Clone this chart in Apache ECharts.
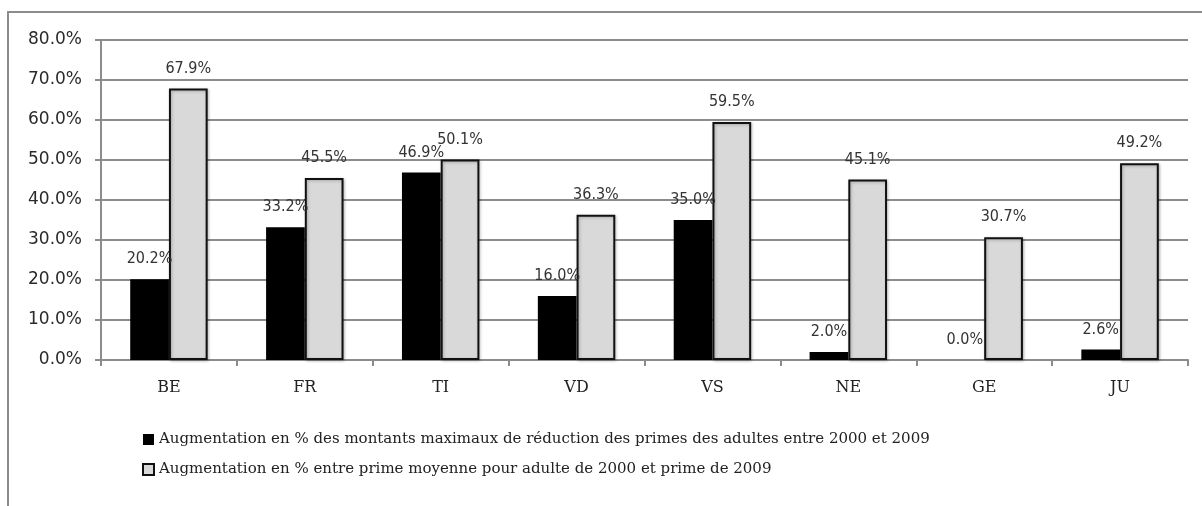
<!DOCTYPE html>
<html>
<head>
<meta charset="utf-8">
<script src="https://cdn.jsdelivr.net/npm/echarts@6/dist/echarts.min.js"></script>
<style>
    html, body { margin: 0; padding: 0; background: #fff; }
    #chart { width: 1202px; height: 506px; }
</style>
</head>
<body>
<div id="chart"></div>
<script>
    // donnees
    var cantons = ['BE', 'FR', 'TI', 'VD', 'VS', 'NE', 'GE', 'JU'];
    var reductionMax = [20.2, 33.2, 46.9, 16.0, 35.0, 2.0, 0.0, 2.6];
    var primeMoyenne = [67.9, 45.5, 50.1, 36.3, 59.5, 45.1, 30.7, 49.2];
    var serieNoms = [
        'Augmentation en % des montants maximaux de réduction des primes des adultes entre 2000 et 2009',
        'Augmentation en % entre prime moyenne pour adulte de 2000 et prime de 2009'
    ];

    var labelPct = {
        show: true,
        position: 'top',
        distance: 12,
        fontFamily: 'DejaVu Sans Condensed',
        fontSize: 16,
        color: '#333',
        formatter: function (p) { return p.value.toFixed(1) + '%'; }
    };

    var myChart = echarts.init(document.getElementById('chart'));
    var option = {
        animation: false,
        graphic: [{
            type: 'rect',
            shape: { x: 8, y: 12, width: 1300, height: 600 },
            style: { fill: 'none', stroke: '#8c8c8c', lineWidth: 2 }
        }],
        grid: { left: 101, right: 14, top: 40, bottom: 146 },
        legend: {
            orient: 'vertical',
            left: 137,
            top: 427,
            itemWidth: 11,
            itemHeight: 11,
            itemGap: 15,
            icon: 'rect',
            textStyle: { fontFamily: 'DejaVu Serif', fontSize: 15, color: '#222', padding: [0, 0, 0, 0] },
            data: serieNoms
        },
        xAxis: {
            type: 'category',
            data: cantons,
            axisLine: { lineStyle: { color: '#8c8c8c', width: 2 } },
            axisTick: { show: true, length: 6, lineStyle: { color: '#8c8c8c', width: 2 } },
            axisLabel: { fontFamily: 'DejaVu Serif', fontSize: 16, color: '#222', margin: 20 }
        },
        yAxis: {
            type: 'value',
            min: 0,
            max: 80,
            interval: 10,
            axisLine: { show: true, lineStyle: { color: '#8c8c8c', width: 2 } },
            axisTick: { show: true, length: 6, lineStyle: { color: '#8c8c8c', width: 2 } },
            splitLine: { lineStyle: { color: '#8c8c8c', width: 2 } },
            axisLabel: {
                fontFamily: 'DejaVu Sans',
                fontSize: 17,
                color: '#2a2a2a',
                margin: 19,
                formatter: function (v) { return v.toFixed(1) + '%'; }
            }
        },
        series: [
            {
                name: serieNoms[0],
                type: 'bar',
                barGap: '0%',
                barCategoryGap: '43%',
                itemStyle: { color: '#000' },
                label: labelPct,
                data: reductionMax
            },
            {
                name: serieNoms[1],
                type: 'bar',
                itemStyle: {
                    color: '#d9d9d9',
                    borderColor: '#111',
                    borderWidth: 2,
                    shadowColor: 'rgba(0,0,0,0.25)',
                    shadowBlur: 3,
                    shadowOffsetX: 1,
                    shadowOffsetY: 1
                },
                label: labelPct,
                data: primeMoyenne
            }
        ]
    };
    myChart.setOption(option);
</script>
</body>
</html>
